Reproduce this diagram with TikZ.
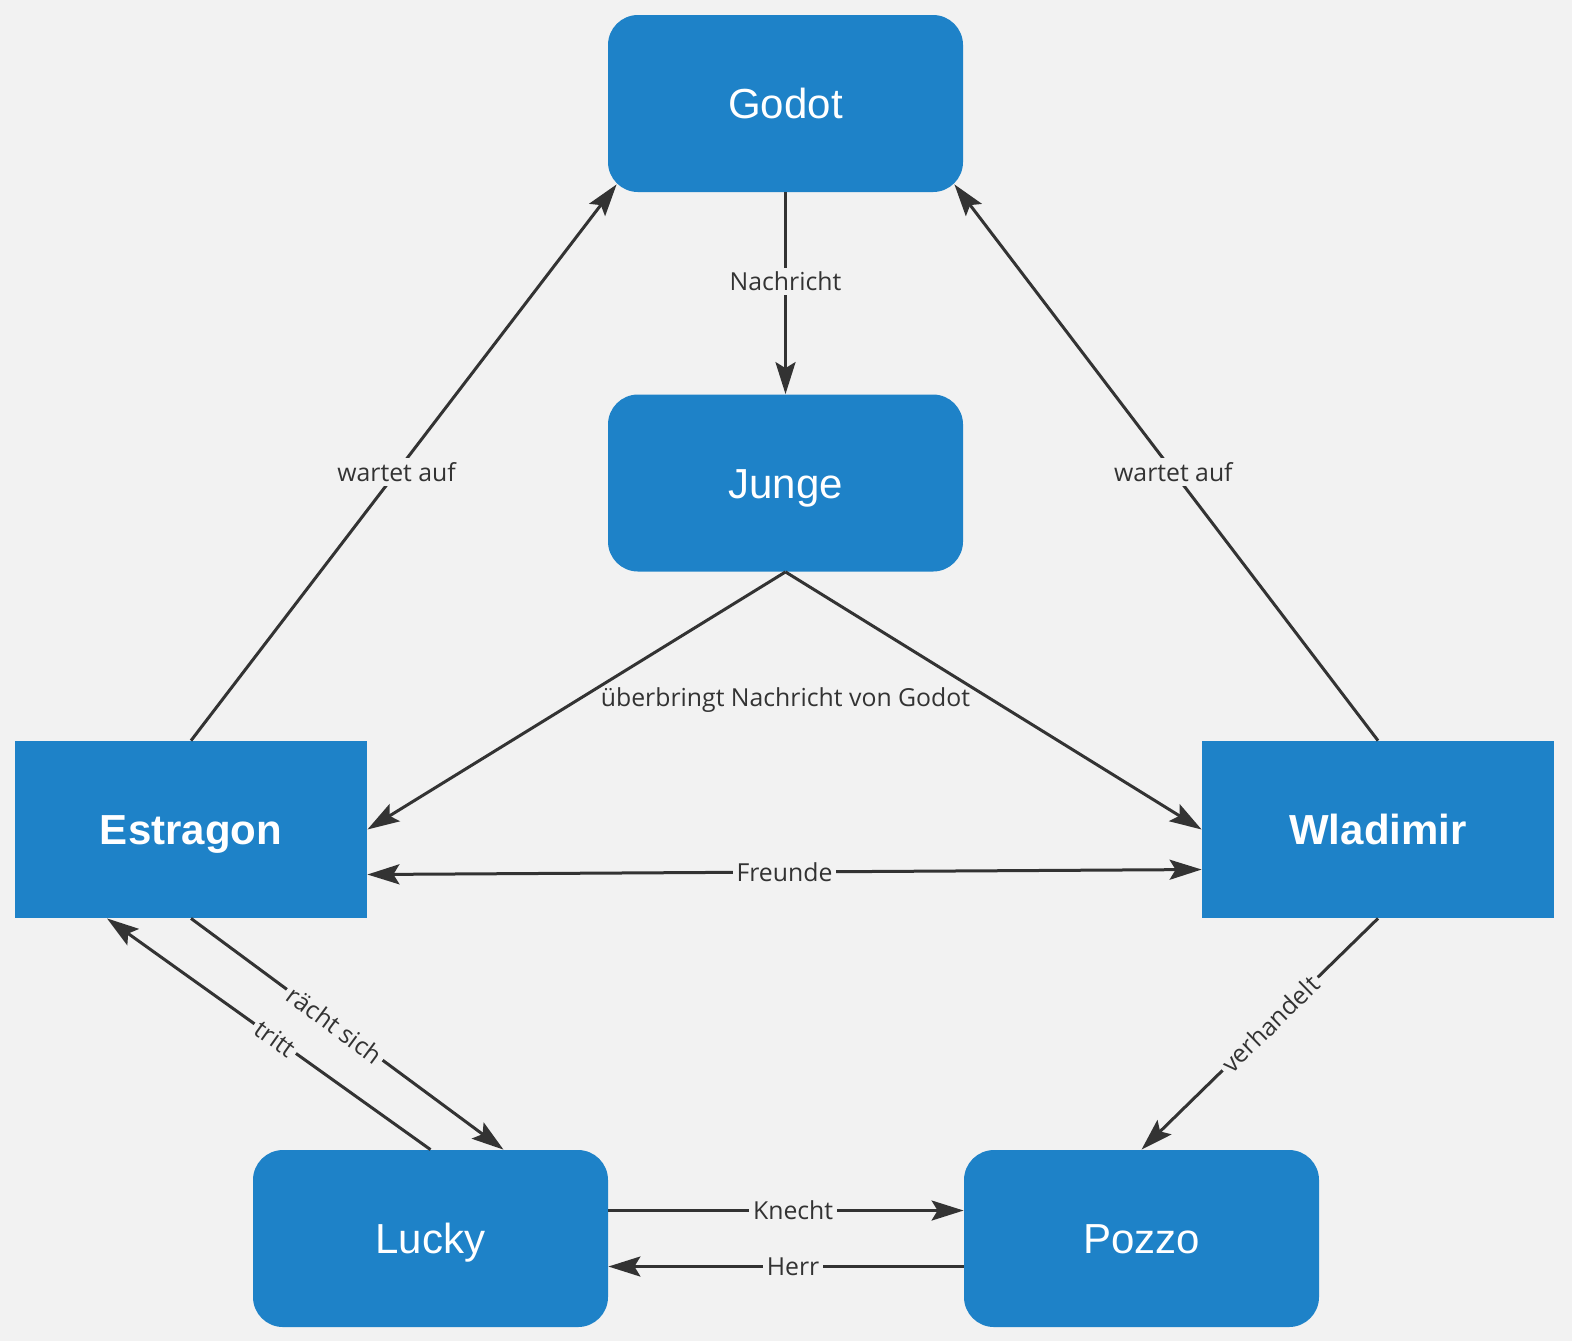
\documentclass[tikz,border=0pt]{standalone}
\usepackage{fontspec}
\setmainfont{Liberation Sans}
\newfontfamily\lblfont{Open Sans}
\usetikzlibrary{arrows.meta}
\definecolor{bg}{HTML}{F2F2F2}
\definecolor{boxblue}{HTML}{1E82C8}
\definecolor{ink}{HTML}{333333}
\tikzset{
  rbox/.style={fill=boxblue, rounded corners=15pt, minimum width=177.5pt, minimum height=88.5pt, text=white, font=\fontsize{21}{25}\selectfont, inner sep=0pt, text height=15pt, text depth=0pt},
  sbox/.style={fill=boxblue, minimum width=176pt, minimum height=88.5pt, text=white, font=\fontsize{21}{25}\selectfont\bfseries, inner sep=0pt, text height=15pt, text depth=0pt},
  conn/.style={draw=ink, line width=1.5pt, -{Stealth[length=16pt,width=10pt,inset=3pt]}},
  lbl/.style={fill=bg, text=ink, font=\lblfont\fontsize{12.4}{14}\selectfont, inner sep=2pt}
}
\begin{document}
\begin{tikzpicture}[x=0.5pt,y=-0.5pt]
\fill[bg] (0,0) rectangle (1572,1341);
\useasboundingbox (0,0) rectangle (1572,1341);

\node[rbox] (godot) at (785.5,103.5) {Godot};
\node[rbox] (junge) at (785.5,483) {Junge};
\node[sbox] (estragon) at (191,829.5) {Estragon};
\node[sbox] (wladimir) at (1378,829.5) {Wladimir};
\node[rbox] (lucky) at (430.5,1238.5) {Lucky};
\node[rbox] (pozzo) at (1141.5,1238.5) {Pozzo};

\draw[conn] (godot.south) -- node[lbl, pos=0.44] {Nachricht} (junge.north);
\draw[conn] (estragon.north) -- node[lbl, pos=0.483] {wartet auf} ([xshift=4.5pt,yshift=4pt]godot.south west);
\draw[conn] (wladimir.north) -- node[lbl, pos=0.483] {wartet auf} ([xshift=-4.5pt,yshift=4pt]godot.south east);
\draw[conn] (junge.south) -- (estragon.east);
\draw[conn] (junge.south) -- (wladimir.west);
\node[lbl, fill=none] (ueb) at ([yshift=-64pt]junge.south) {überbringt Nachricht von Godot};
\draw[conn, {Stealth[length=16pt,width=10pt,inset=3pt]}-{Stealth[length=16pt,width=10pt,inset=3pt]}] ([yshift=-22.5pt]estragon.east) -- node[lbl, pos=0.5] {Freunde} ([yshift=-20pt]wladimir.west);
\draw[conn] (estragon.south) -- node[lbl, pos=0.46, sloped] {rächt sich} ([xshift=36.5pt]lucky.north);
\draw[conn] (lucky.north) -- node[lbl, pos=0.48, sloped] {tritt} ([xshift=-42pt]estragon.south);
\draw[conn] (wladimir.south) -- node[lbl, pos=0.456, sloped] {verhandelt} (pozzo.north);
\draw[conn] ([yshift=14pt]lucky.east) -- node[lbl, pos=0.52] {Knecht} ([yshift=14pt]pozzo.west);
\draw[conn] ([yshift=-14pt]pozzo.west) -- node[lbl, pos=0.48] {Herr} ([yshift=-14pt]lucky.east);
\end{tikzpicture}
\end{document}
